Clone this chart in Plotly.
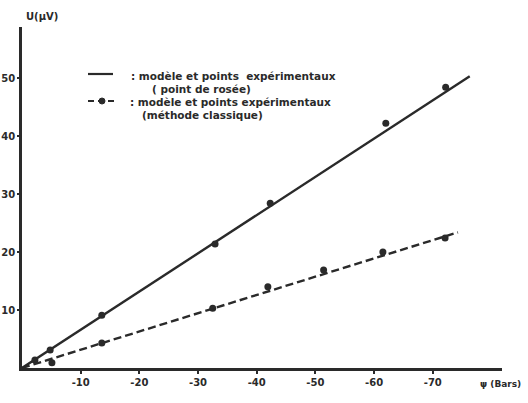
import plotly.graph_objects as go

# Data
psi_dew = [-2.2, -4.8, -13.6, -32.9, -42.3, -62.0, -72.2]
u_dew = [1.4, 3.1, 9.1, 21.4, 28.4, 42.2, 48.4]
psi_model_dew = [0, -76.3]
u_model_dew = [0, 50.3]

psi_cls = [-5.1, -13.6, -32.5, -41.9, -51.4, -61.5, -72.1]
u_cls = [0.9, 4.3, 10.3, 14.0, 16.9, 20.0, 22.4]
psi_model_cls = [0, -74.3]
u_model_cls = [0, 23.4]

x_ticks = [-10, -20, -30, -40, -50, -60, -70]
x_ticktext = ["-10", "-20", "-30", "-40", "-50", "-60", "-70"]
y_ticks = [10, 20, 30, 40, 50]
y_ticktext = ["10", "20", "30", "40", "50"]

ink = "#2a2a2a"
fnt = dict(family="DejaVu Sans", size=10, color=ink, weight="bold")

fig = go.Figure()
fig.add_trace(go.Scatter(x=psi_model_dew, y=u_model_dew, mode="lines",
                         line=dict(color=ink, width=2.4), showlegend=False, hoverinfo="skip"))
fig.add_trace(go.Scatter(x=psi_dew, y=u_dew, mode="markers",
                         marker=dict(color=ink, size=7, symbol="circle"), showlegend=False))
fig.add_trace(go.Scatter(x=psi_model_cls, y=u_model_cls, mode="lines",
                         line=dict(color=ink, width=2.4, dash="8px,4px"), showlegend=False, hoverinfo="skip"))
fig.add_trace(go.Scatter(x=psi_cls, y=u_cls, mode="markers",
                         marker=dict(color=ink, size=7, symbol="circle"), showlegend=False))

W, H = 528, 403
L, R, T, B = 22, 26, 27, 35

def px(xs):
    return (xs - L) / (W - L - R)

def py(ys):
    return (H - B - ys) / (H - T - B)

shapes = [
    dict(type="line", xref="paper", yref="paper", x0=px(88), x1=px(113), y0=py(74), y1=py(74),
         line=dict(color=ink, width=2.2)),
    dict(type="line", xref="paper", yref="paper", x0=px(88), x1=px(116), y0=py(101), y1=py(101),
         line=dict(color=ink, width=2.2, dash="6px,4px")),
    dict(type="circle", xref="paper", yref="paper", x0=px(99), x1=px(105), y0=py(98), y1=py(104),
         fillcolor=ink, line=dict(color=ink, width=1)),
]

lfont = dict(family="DejaVu Sans", size=10.5, color=ink, weight="bold")
annotations = [
    dict(text="U(µV)", xref="paper", yref="paper", x=px(24), y=py(16), xanchor="left", yanchor="middle",
         showarrow=False, font=fnt),
    dict(text="ψ (Bars)", xref="paper", yref="paper", x=px(478), y=py(384), xanchor="left", yanchor="middle",
         showarrow=False, font=dict(family="DejaVu Sans", size=9, color=ink, weight="bold")),
    dict(text=": modèle et points  expérimentaux", xref="paper", yref="paper", x=px(129), y=py(76),
         xanchor="left", yanchor="middle", showarrow=False, font=lfont),
    dict(text="( point de rosée)", xref="paper", yref="paper", x=px(150), y=py(89),
         xanchor="left", yanchor="middle", showarrow=False, font=lfont),
    dict(text=": modèle et points expérimentaux", xref="paper", yref="paper", x=px(128), y=py(102),
         xanchor="left", yanchor="middle", showarrow=False, font=lfont),
    dict(text="(méthode classique)", xref="paper", yref="paper", x=px(140), y=py(115),
         xanchor="left", yanchor="middle", showarrow=False, font=lfont),
]

fig.update_layout(
    width=W, height=H,
    margin=dict(l=L, r=R, t=T, b=B, autoexpand=False),
    paper_bgcolor="white", plot_bgcolor="white",
    shapes=shapes, annotations=annotations,
    xaxis=dict(range=[0, -81.8], tickvals=x_ticks, ticktext=x_ticktext, tickfont=fnt,
               showgrid=False, zeroline=False, showline=True, linecolor=ink, linewidth=2.5,
               ticks="outside", ticklen=3, tickcolor=ink, tickwidth=1.5, automargin=False),
    yaxis=dict(range=[0, 58.8], tickvals=y_ticks, ticktext=y_ticktext, tickfont=fnt,
               showgrid=False, zeroline=False, showline=True, linecolor=ink, linewidth=2.5,
               ticks="outside", ticklen=2, tickcolor=ink, tickwidth=1.5, automargin=False),
)

fig.write_html("out.html", config={"displayModeBar": False},
               post_script="document.body.style.margin='0';")
